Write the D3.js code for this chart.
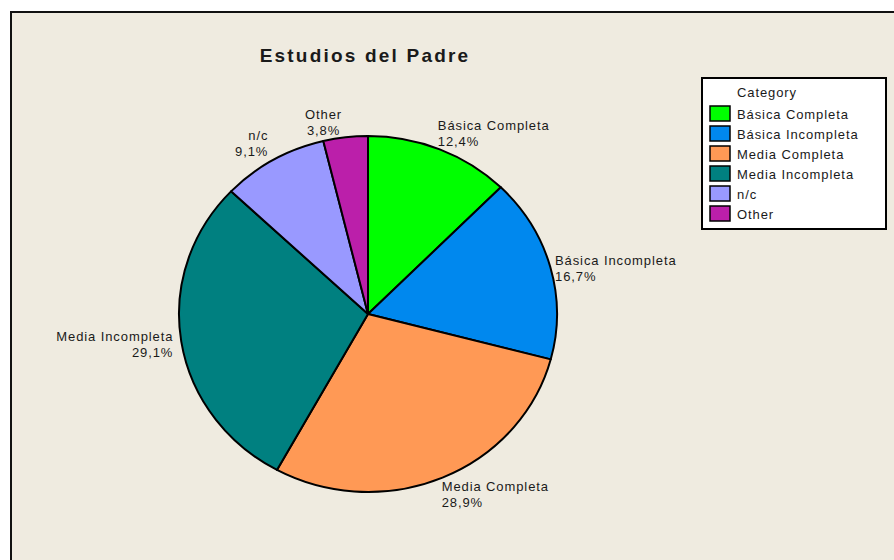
<!DOCTYPE html>
<html>
<head>
<meta charset="utf-8">
<script src="https://cdn.jsdelivr.net/npm/d3@7"></script>
<style>
  html, body { margin: 0; padding: 0; background: #ffffff; }
  svg { display: block; }
  text { font-family: "Liberation Sans", Arial, sans-serif; fill: #1a1a1a; }
</style>
</head>
<body>
<div id="chart"></div>
<script>
  // data
  const categories = [
    "Básica Completa",
    "Básica Incompleta",
    "Media Completa",
    "Media Incompleta",
    "n/c",
    "Other"
  ];
  const percents = [12.4, 16.7, 28.9, 29.1, 9.1, 3.8];
  const colors = ["#00ff00", "#0088ee", "#ff9955", "#008080", "#9999ff", "#bb1faa"];

  const TITLE = "Estudios del Padre";
  const LEGEND_TITLE = "Category";

  const width = 894;
  const height = 560;
  const bg = "#efebe0";

  // small label nudges, Minitab moves a few labels to avoid the slices
  const labelNudge = {
    "Básica Completa": [-5, 8],
    "Básica Incompleta": [-3, 3],
    "Media Completa": [-4, -5],
    "Media Incompleta": [0, 1],
    "n/c": [-1, 7],
    "Other": [-21, 10]
  };

  const svg = d3.select("#chart").append("svg")
    .attr("width", width)
    .attr("height", height);

  // frame
  svg.append("rect")
    .attr("x", 11).attr("y", 12)
    .attr("width", width + 20).attr("height", height + 20)
    .attr("fill", bg)
    .attr("stroke", "#111")
    .attr("stroke-width", 2);

  svg.append("text")
    .attr("x", 365).attr("y", 62)
    .attr("text-anchor", "middle")
    .style("font-size", "19px")
    .style("font-weight", "bold")
    .style("letter-spacing", "2.2px")
    .text(TITLE);

  const cx = 368, cy = 314, rx = 189, ry = 178;

  const data = categories.map((c, i) => ({ name: c, value: percents[i], color: colors[i] }));

  const pie = d3.pie().sort(null).value(d => d.value);
  const arcs = pie(data);
  const arc = d3.arc().innerRadius(0).outerRadius(rx);

  const pieG = svg.append("g")
    .attr("transform", `translate(${cx},${cy}) scale(1,${ry / rx})`);

  pieG.selectAll("path")
    .data(arcs)
    .enter()
    .append("path")
    .attr("d", arc)
    .attr("fill", d => d.data.color)
    .attr("stroke", "#000")
    .attr("stroke-width", 2)
    .attr("stroke-linejoin", "round")
    .attr("vector-effect", "non-scaling-stroke");

  // slice labels
  const fmt = v => d3.format(".1f")(v).replace(".", ",") + "%";
  const lineH = 16;
  const labels = svg.append("g");
  arcs.forEach(a => {
    const mid = (a.startAngle + a.endAngle) / 2;
    const s = Math.sin(mid), c = Math.cos(mid);
    let x = cx + (rx + 8) * s;
    let y = cy - (ry + 8) * c;
    const nudge = labelNudge[a.data.name] || [0, 0];
    x += nudge[0];
    y += nudge[1];
    const anchor = s > 0.3 ? "start" : s < -0.3 ? "end" : "middle";
    // baseline of the first line
    let y0;
    if (c > 0.3) y0 = y - lineH - 4;
    else if (c < -0.3) y0 = y + 11;
    else y0 = y - 3;
    const t = labels.append("text")
      .attr("text-anchor", anchor)
      .style("font-size", "13px")
      .style("letter-spacing", "0.9px");
    t.append("tspan").attr("x", x).attr("y", y0).text(a.data.name);
    t.append("tspan").attr("x", x).attr("y", y0 + lineH).text(fmt(a.data.value));
  });

  // legend
  const legend = svg.append("g").attr("transform", "translate(702,78)");
  legend.append("rect")
    .attr("width", 184).attr("height", 151)
    .attr("fill", "#fff")
    .attr("stroke", "#000")
    .attr("stroke-width", 2);
  legend.append("text")
    .attr("x", 35).attr("y", 19)
    .style("font-size", "13px")
    .style("letter-spacing", "0.9px")
    .text(LEGEND_TITLE);

  const rows = legend.selectAll("g.row")
    .data(data)
    .enter()
    .append("g")
    .attr("class", "row")
    .attr("transform", (d, i) => `translate(8,${28 + i * 20})`);
  rows.append("rect")
    .attr("width", 20).attr("height", 15)
    .attr("fill", d => d.color)
    .attr("stroke", "#000")
    .attr("stroke-width", 1.5);
  rows.append("text")
    .attr("x", 27).attr("y", 12.5)
    .style("font-size", "13px")
    .style("letter-spacing", "0.9px")
    .text(d => d.name);
</script>
</body>
</html>
